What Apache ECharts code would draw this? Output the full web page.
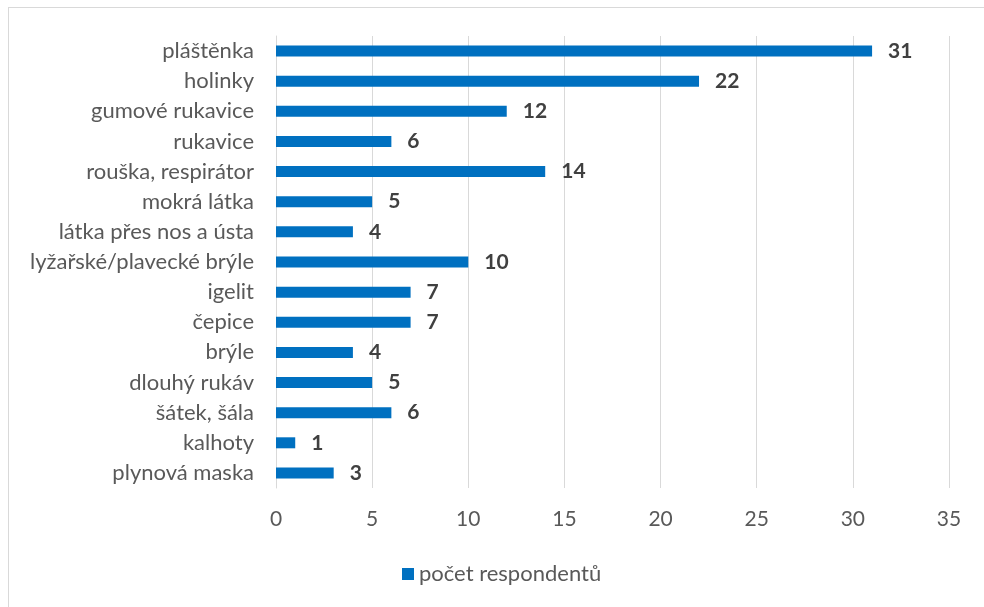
<!DOCTYPE html>
<html>
<head>
<meta charset="utf-8">
<script src="https://cdn.jsdelivr.net/npm/echarts@6/dist/echarts.min.js"></script>
<style>
  html, body { margin: 0; padding: 0; background: #fff; }
  #frame { position: absolute; left: 8px; top: 7px; width: 990px; height: 620px; border: 1px solid #d9d9d9; box-sizing: border-box; }
  #chart { position: absolute; left: 0; top: 0; width: 984px; height: 607px; }
</style>
</head>
<body>
<div id="frame"></div>
<div id="chart"></div>
<script>
// Protective items named by respondents (top to bottom as listed)
const categories = [
  'pláštěnka', 'holinky', 'gumové rukavice', 'rukavice', 'rouška, respirátor',
  'mokrá látka', 'látka přes nos a ústa', 'lyžařské/plavecké brýle', 'igelit',
  'čepice', 'brýle', 'dlouhý rukáv', 'šátek, šála', 'kalhoty', 'plynová maska'
];
const respondents = [31, 22, 12, 6, 14, 5, 4, 10, 7, 7, 4, 5, 6, 1, 3];
const seriesName = 'počet respondentů';
const xTicks = { min: 0, max: 35, interval: 5 };

const font = 'Lato, "Open Sans", sans-serif';
const chart = echarts.init(document.getElementById('chart'), null, { renderer: 'canvas' });
chart.setOption({
  animation: false,
  textStyle: { fontFamily: font },
  grid: { left: 276, right: 35, top: 36, bottom: 119, containLabel: false },
  legend: {
    data: [seriesName],
    bottom: 17,
    left: 397,
    icon: 'rect',
    itemWidth: 12,
    itemHeight: 12,
    itemGap: 6,
    textStyle: { fontSize: 22, color: '#595959', fontFamily: font }
  },
  xAxis: {
    type: 'value',
    min: xTicks.min, max: xTicks.max, interval: xTicks.interval,
    axisLine: { show: false },
    axisTick: { show: false },
    splitLine: { show: true, lineStyle: { color: '#d9d9d9', width: 1 } },
    axisLabel: { fontSize: 21, color: '#595959', margin: 21, fontFamily: font }
  },
  yAxis: {
    type: 'category',
    inverse: true,
    data: categories,
    axisLine: { show: true, lineStyle: { color: '#d9d9d9' } },
    axisTick: { show: false },
    axisLabel: { fontSize: 22, color: '#595959', margin: 22, fontFamily: font }
  },
  series: [{
    name: seriesName,
    type: 'bar',
    data: respondents,
    barWidth: 11,
    itemStyle: { color: '#0070c0' },
    label: {
      show: true,
      position: 'right',
      distance: 16,
      fontSize: 21,
      fontWeight: 'bold',
      color: '#404040',
      fontFamily: font
    }
  }]
});
</script>
</body>
</html>
